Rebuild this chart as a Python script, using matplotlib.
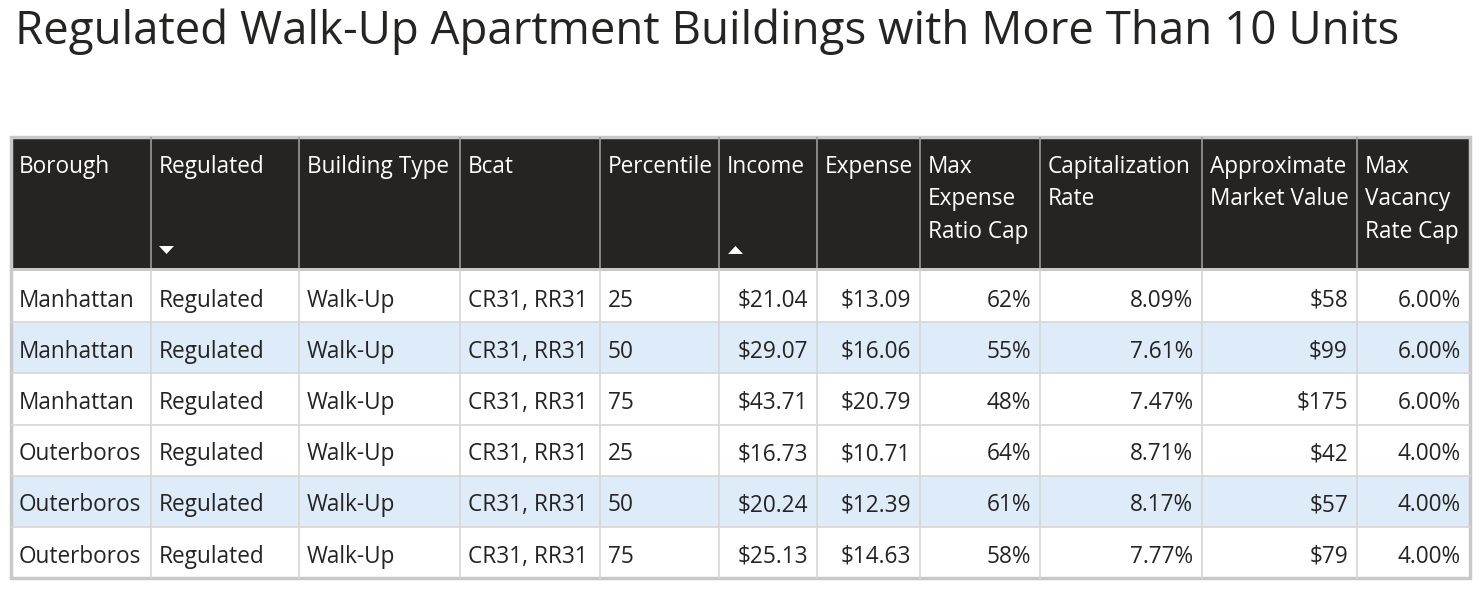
import matplotlib
matplotlib.use("Agg")
import matplotlib.pyplot as plt
from matplotlib.patches import Rectangle, Polygon

FONT = ["Open Sans", "DejaVu Sans"]

title = "Regulated Walk-Up Apartment Buildings with More Than 10 Units"
headers = ["Borough", "Regulated", "Building Type", "Bcat", "Percentile", "Income",
           "Expense", "Max\nExpense\nRatio Cap", "Capitalization\nRate",
           "Approximate\nMarket Value", "Max\nVacancy\nRate Cap"]
borough = ["Manhattan", "Manhattan", "Manhattan", "Outerboros", "Outerboros", "Outerboros"]
regulated = ["Regulated"] * 6
building_type = ["Walk-Up"] * 6
bcat = ["CR31, RR31"] * 6
percentile = [25, 50, 75, 25, 50, 75]
income = [21.04, 29.07, 43.71, 16.73, 20.24, 25.13]
expense = [13.09, 16.06, 20.79, 10.71, 12.39, 14.63]
max_expense_ratio = [62, 55, 48, 64, 61, 58]
cap_rate = [8.09, 7.61, 7.47, 8.71, 8.17, 7.77]
market_value = [58, 99, 175, 42, 57, 79]
max_vacancy = [6.00, 6.00, 6.00, 4.00, 4.00, 4.00]

rows = []
for i in range(len(borough)):
    rows.append([borough[i], regulated[i], building_type[i], bcat[i], str(percentile[i]),
                 f"${income[i]:.2f}", f"${expense[i]:.2f}", f"{max_expense_ratio[i]:.0f}%",
                 f"{cap_rate[i]:.2f}%", f"${market_value[i]:.0f}", f"{max_vacancy[i]:.2f}%"])
align = ["left"] * 5 + ["right"] * 6

W, H = 1480, 591
fig = plt.figure(figsize=(W / 100, H / 100), dpi=100)
ax = fig.add_axes([0, 0, 1, 1])
ax.set_xlim(0, W)
ax.set_ylim(H, 0)
ax.axis("off")

col_x = [11, 151, 299, 460, 600, 719, 817, 920, 1040, 1202, 1357, 1470]
top, head_bot = 137, 268
row_h = 51.2
body_top = 271
FS = 16.3

fig.text(15 / W, 1 - 32 / H, title, fontsize=32.9, family=FONT, color="#252423",
         va="center", ha="left")

# header
ax.add_patch(Rectangle((col_x[0], top), col_x[-1] - col_x[0], head_bot - top,
                       facecolor="#252423", edgecolor="none"))
for j, h in enumerate(headers):
    ax.text(col_x[j] + 8, top + 18, h, fontsize=FS, family=FONT, color="white",
            va="top", ha="left", linespacing=1.46)
for x in col_x[1:-1]:
    ax.plot([x, x], [top, head_bot], color="#9a9a9a", lw=1.2, solid_capstyle="butt")
# sort arrows
tri_w, tri_h = 15, 8
xr = col_x[1] + 8
ax.add_patch(Polygon([[xr, 246], [xr + tri_w, 246], [xr + tri_w / 2, 246 + tri_h]],
                     closed=True, facecolor="white", edgecolor="none"))
xi = col_x[5] + 9
ax.add_patch(Polygon([[xi, 254], [xi + tri_w, 254], [xi + tri_w / 2, 254 - tri_h]],
                     closed=True, facecolor="white", edgecolor="none"))

# header bottom thick line
ax.add_patch(Rectangle((col_x[0], head_bot), col_x[-1] - col_x[0], body_top - head_bot,
                       facecolor="#c8c8c8", edgecolor="none"))

# body
for i, r in enumerate(rows):
    y0 = body_top + i * row_h
    bg = "#deecf9" if i in (1, 4) else "white"
    ax.add_patch(Rectangle((col_x[0], y0), col_x[-1] - col_x[0], row_h,
                           facecolor=bg, edgecolor="none"))
    for j, val in enumerate(r):
        if align[j] == "left":
            ax.text(col_x[j] + 8, y0 + row_h / 2 + 4, val, fontsize=FS, family=FONT,
                    color="#252423", va="center", ha="left")
        else:
            ax.text(col_x[j + 1] - 9, y0 + row_h / 2 + 4, val, fontsize=FS, family=FONT,
                    color="#252423", va="center", ha="right")
    if i > 0:
        ax.plot([col_x[0], col_x[-1]], [y0, y0], color="#d6d6d6", lw=1.2)
body_bot = body_top + len(rows) * row_h
for x in col_x[1:-1]:
    ax.plot([x, x], [body_top, body_bot], color="#d6d6d6", lw=1.2)

# outer border
ax.add_patch(Rectangle((col_x[0], top), col_x[-1] - col_x[0], body_bot - top,
                       facecolor="none", edgecolor="#c8c8c8", lw=2.5))

fig.savefig("out.png", dpi=100)
